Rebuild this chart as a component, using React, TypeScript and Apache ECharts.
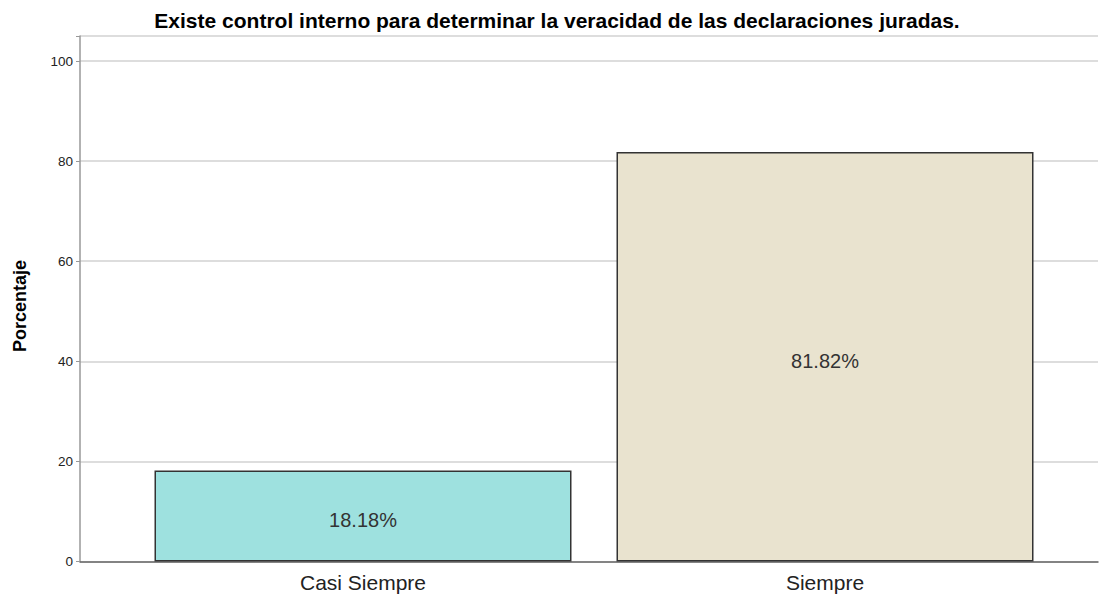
import React, { useEffect, useRef } from "react";
import * as echarts from "echarts";

const titleText = "Existe control interno para determinar la veracidad de las declaraciones juradas.";
const categories = ["Casi Siempre", "Siempre"];
const percentages = [18.18, 81.82];
const barColors = ["#9ee1df", "#e9e3cf"];
const yTicks = { min: 0, max: 105, interval: 20 };
const yAxisTitle = "Porcentaje";

export default function App() {
  const ref = useRef<HTMLDivElement>(null);
  useEffect(() => {
    if (!ref.current) return;
    const chart = echarts.init(ref.current, undefined, { renderer: "svg" });
    const font = "Arial, 'Liberation Sans', Helvetica, sans-serif";
    chart.setOption({
      animation: false,
      backgroundColor: "#ffffff",
      textStyle: { fontFamily: font },
      title: {
        text: titleText,
        left: 552,
        top: 5,
        textAlign: "center",
        textStyle: { fontSize: 21, fontWeight: "bold", color: "#000", fontFamily: font },
      },
      graphic: [
        {
          type: "text",
          x: 20,
          y: 306,
          rotation: Math.PI / 2,
          style: {
            text: yAxisTitle,
            fontSize: 18,
            fontWeight: "bold",
            fill: "#000",
            fontFamily: font,
            textAlign: "center",
            textVerticalAlign: "middle",
          },
        },
      ],
      grid: [
        { left: 80, right: 1, top: 36, bottom: 36.5, containLabel: false },
        { left: 132, width: 924, top: 36, bottom: 36.5, containLabel: false },
      ],
      xAxis: [
        {
          gridIndex: 0,
          type: "value",
          min: 0,
          max: 1,
          show: true,
          axisLine: { show: true, lineStyle: { color: "#666", width: 1.5 } },
          axisTick: { show: false },
          axisLabel: { show: false },
          splitLine: { show: false },
        },
        {
          gridIndex: 1,
          type: "category",
          data: categories,
          axisLine: { show: false },
          axisTick: { show: false },
          axisLabel: { fontSize: 21, color: "#222", margin: 10, fontFamily: font },
        },
      ],
      yAxis: [
        {
          gridIndex: 0,
          type: "value",
          min: yTicks.min,
          max: yTicks.max,
          interval: yTicks.interval,
          axisLine: { show: true, lineStyle: { color: "#999", width: 1.5 } },
          axisTick: { show: true, length: 4, lineStyle: { color: "#999" } },
          axisLabel: {
            fontSize: 13.5,
            color: "#222",
            margin: 7,
            fontFamily: font,
            formatter: (v: number) => (v % 20 === 0 && v <= 100 ? String(v) : ""),
          },
          splitLine: { show: true, lineStyle: { color: "#d2d2d2", width: 1.5 } },
        },
        {
          gridIndex: 1,
          type: "value",
          min: yTicks.min,
          max: yTicks.max,
          show: false,
        },
      ],
      series: [
        {
          type: "bar",
          xAxisIndex: 1,
          yAxisIndex: 1,
          barWidth: 417,
          data: percentages.map((v, i) => ({
            value: v,
            itemStyle: { color: barColors[i], borderColor: "#333", borderWidth: 1.5 },
          })),
          label: {
            show: true,
            position: "inside",
            offset: [0, 4],
            fontSize: 20,
            color: "#333",
            fontFamily: font,
            formatter: (p: any) => p.value.toFixed(2) + "%",
          },
        },
      ],
    });
    return () => chart.dispose();
  }, []);
  return (
    <div
      ref={ref}
      style={{ position: "fixed", left: 0, top: 0, width: 1099, height: 598, background: "#fff" }}
    />
  );
}
